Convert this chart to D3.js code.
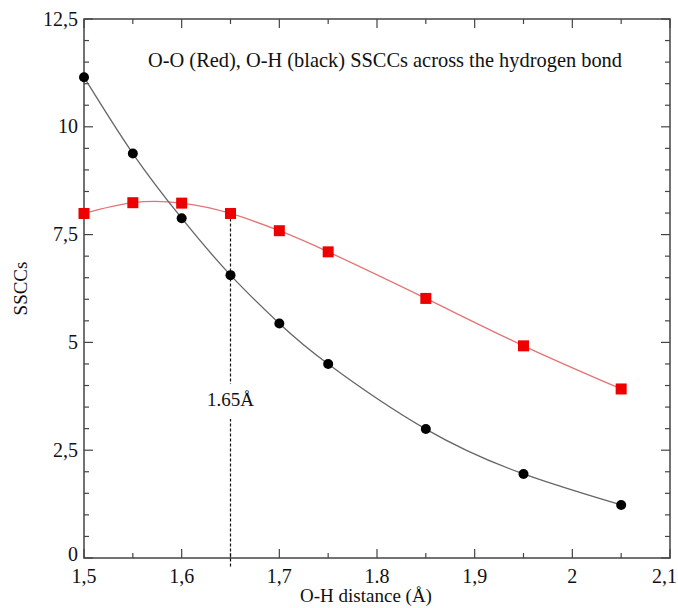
<!DOCTYPE html>
<html>
<head>
<meta charset="utf-8">
<script src="https://cdn.jsdelivr.net/npm/d3@7"></script>
<style>
  body { margin: 0; background: #fff; }
  svg { display: block; font-family: "Liberation Serif", "Times New Roman", serif; }
</style>
</head>
<body>
<svg width="678" height="608"></svg>
<script>
// --- DATA ---
const distances = [1.5, 1.55, 1.6, 1.65, 1.7, 1.75, 1.85, 1.95, 2.05];
const sscOO = [7.99, 8.24, 8.23, 7.99, 7.59, 7.10, 6.02, 4.92, 3.92];   // red
const sscOH = [11.15, 9.38, 7.88, 6.56, 5.44, 4.50, 2.99, 1.95, 1.23]; // black
const xTicks = [1.5, 1.6, 1.7, 1.8, 1.9, 2.0, 2.1];
const xTickLabels = ["1,5", "1,6", "1,7", "1.8", "1,9", "2", "2,1"];
const xMinor = [1.55, 1.65, 1.75, 1.85, 1.95, 2.05];
const yTicks = [0, 2.5, 5, 7.5, 10, 12.5];
const yTickLabels = ["0", "2,5", "5", "7,5", "10", "12,5"];
const yMinor = d3.range(0, 12.51, 0.5).filter(v => Math.abs(v / 2.5 - Math.round(v / 2.5)) > 1e-6);
const markX = 1.65;
const markLabel = "1.65Å";

const svg = d3.select("svg");
const margin = { left: 84, right: 8, top: 19, bottom: 50 };
const W = 678, H = 608;

const x = d3.scaleLinear().domain([1.5, 2.1]).range([margin.left, W - margin.right]);
const y = d3.scaleLinear().domain([0, 12.5]).range([H - margin.bottom, margin.top]);

const axisColor = "#444";

// --- FRAME ---
svg.append("rect")
  .attr("x", x(1.5)).attr("y", y(12.5))
  .attr("width", x(2.1) - x(1.5)).attr("height", y(0) - y(12.5))
  .attr("fill", "none").attr("stroke", axisColor).attr("stroke-width", 1.5);

// --- TICKS (inward, all four sides) ---
const tickG = svg.append("g").attr("stroke", axisColor).attr("stroke-width", 1.2);
function xTick(v, len) {
  tickG.append("line").attr("x1", x(v)).attr("x2", x(v)).attr("y1", y(0)).attr("y2", y(0) - len);
  tickG.append("line").attr("x1", x(v)).attr("x2", x(v)).attr("y1", y(12.5)).attr("y2", y(12.5) + len);
}
function yTick(v, len) {
  tickG.append("line").attr("y1", y(v)).attr("y2", y(v)).attr("x1", x(1.5)).attr("x2", x(1.5) + len);
  tickG.append("line").attr("y1", y(v)).attr("y2", y(v)).attr("x1", x(2.1)).attr("x2", x(2.1) - len);
}
xTicks.forEach(v => xTick(v, 9));
xMinor.forEach(v => xTick(v, 5));
yTicks.forEach(v => yTick(v, 9));
yMinor.forEach(v => yTick(v, 5));

// --- TICK LABELS ---
svg.append("g").selectAll("text")
  .data(xTicks)
  .join("text")
  .attr("x", (d, i) => i === xTicks.length - 1 ? W - 1 : x(d))
  .attr("y", y(0) + 25)
  .attr("text-anchor", (d, i) => i === xTicks.length - 1 ? "end" : "middle")
  .attr("font-size", 20)
  .attr("fill", "#111")
  .text((d, i) => xTickLabels[i]);

svg.append("g").selectAll("text")
  .data(yTicks)
  .join("text")
  .attr("x", x(1.5) - 6)
  .attr("y", d => d === 0 ? y(d) + 3 : y(d) + 6.5)
  .attr("text-anchor", "end")
  .attr("font-size", 20)
  .attr("fill", "#111")
  .text((d, i) => yTickLabels[i]);

// --- AXIS TITLES ---
svg.append("text")
  .attr("x", 366).attr("y", 602)
  .attr("text-anchor", "middle")
  .attr("font-size", 19)
  .attr("fill", "#111")
  .text("O-H distance (Å)");

svg.append("text")
  .attr("transform", `translate(27, ${(y(0) + y(12.5)) / 2}) rotate(-90)`)
  .attr("text-anchor", "middle")
  .attr("font-size", 19)
  .attr("fill", "#111")
  .text("SSCCs");

// --- TITLE ---
svg.append("text")
  .attr("x", 148).attr("y", 67)
  .attr("font-size", 20.4)
  .attr("fill", "#111")
  .text("O-O (Red), O-H (black) SSCCs across the hydrogen bond");

// --- MARKER LINE AT 1.65 ---
const iMark = distances.indexOf(markX);
svg.append("line")
  .attr("x1", x(markX)).attr("x2", x(markX))
  .attr("y1", y(sscOO[iMark])).attr("y2", y(0) + 9)
  .attr("stroke", "#111").attr("stroke-width", 1.2)
  .attr("stroke-dasharray", "3,2");

svg.append("rect")
  .attr("x", x(markX) - 30).attr("y", 384)
  .attr("width", 60).attr("height", 35)
  .attr("fill", "#fff");

svg.append("text")
  .attr("x", x(markX)).attr("y", 406)
  .attr("text-anchor", "middle")
  .attr("font-size", 19)
  .attr("fill", "#111")
  .text(markLabel);

// --- LINES ---
const line = d3.line().curve(d3.curveNatural);
const ptsOO = distances.map((d, i) => [x(d), y(sscOO[i])]);
const ptsOH = distances.map((d, i) => [x(d), y(sscOH[i])]);

svg.append("path").attr("d", line(ptsOO))
  .attr("fill", "none").attr("stroke", "#e57373").attr("stroke-width", 1.3);
svg.append("path").attr("d", line(ptsOH))
  .attr("fill", "none").attr("stroke", "#666").attr("stroke-width", 1.3);

// --- MARKERS ---
svg.append("g").selectAll("rect")
  .data(ptsOO)
  .join("rect")
  .attr("x", d => d[0] - 5.5).attr("y", d => d[1] - 5.5)
  .attr("width", 11).attr("height", 11)
  .attr("fill", "#ee0000");

svg.append("g").selectAll("circle")
  .data(ptsOH)
  .join("circle")
  .attr("cx", d => d[0]).attr("cy", d => d[1])
  .attr("r", 5)
  .attr("fill", "#000");
</script>
</body>
</html>
